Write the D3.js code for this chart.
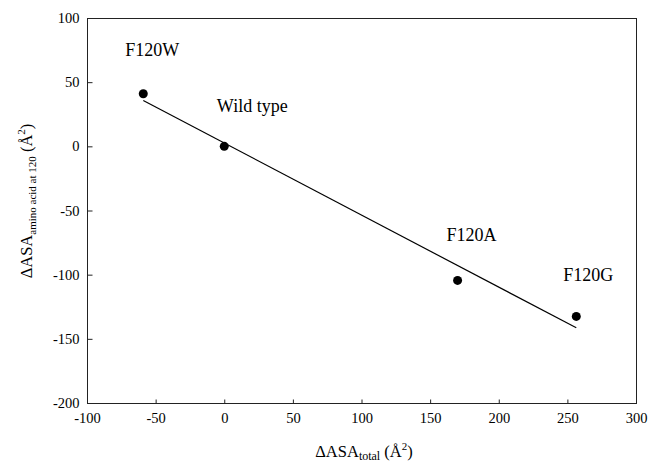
<!DOCTYPE html>
<html>
<head>
<meta charset="utf-8">
<script src="https://cdn.jsdelivr.net/npm/d3@7"></script>
<style>
  body { margin: 0; background: #fff; }
  svg { display: block; }
  svg text { font-family: "Times New Roman", "Liberation Serif", "DejaVu Serif", serif; }
</style>
</head>
<body>
<div id="chart"></div>
<script>
// mutants and their surface area changes (Å^2)
const names = ['F120W', 'Wild type', 'F120A', 'F120G'];
const asaTotal = [-59, 0, 170, 256.5];
const asa120 = [41, 0, -104.5, -132.5];
// label offsets relative to each point, in px
const labelDx = [9, 28, 14, 12];
const labelDy = [-38, -34, -39, -35];
const xTicks = [-100, -50, 0, 50, 100, 150, 200, 250, 300];
const yTicks = [-200, -150, -100, -50, 0, 50, 100];

const width = 648, height = 464;
const margin = {top: 18, right: 12, bottom: 61, left: 87};

const svg = d3.select('#chart').append('svg')
    .attr('width', width)
    .attr('height', height);

const x = d3.scaleLinear()
    .domain([-100, 300])
    .range([margin.left, width - margin.right]);
const y = d3.scaleLinear()
    .domain([-200, 100])
    .range([height - margin.bottom, margin.top]);

const points = names.map((n, i) => ({name: n, x: asaTotal[i], y: asa120[i], dx: labelDx[i], dy: labelDy[i]}));

// frame
svg.append('rect')
    .attr('x', x(-100) + 0.5)
    .attr('y', y(100) + 0.5)
    .attr('width', x(300) - x(-100))
    .attr('height', y(-200) - y(100))
    .attr('fill', 'none')
    .attr('stroke', '#222')
    .attr('stroke-width', 1);

// axes, ticks pointing inward, plain hyphen minus
svg.append('g')
    .attr('transform', `translate(0,${y(-200) + 0.5})`)
    .call(d3.axisBottom(x).tickValues(xTicks).tickFormat(d => String(d))
        .tickSizeInner(-4).tickSizeOuter(0).tickPadding(9))
    .call(g => g.select('.domain').remove())
    .call(g => g.attr('font-family', null))
    .call(g => g.selectAll('line').attr('stroke', '#222'))
    .call(g => g.selectAll('text')
        .attr('font-size', '14.5px')
        .attr('fill', '#000'));

svg.append('g')
    .attr('transform', `translate(${x(-100) + 0.5},0)`)
    .call(d3.axisLeft(y).tickValues(yTicks).tickFormat(d => String(d))
        .tickSizeInner(-5).tickSizeOuter(0).tickPadding(8))
    .call(g => g.select('.domain').remove())
    .call(g => g.attr('font-family', null))
    .call(g => g.selectAll('line').attr('stroke', '#222'))
    .call(g => g.selectAll('text')
        .attr('font-size', '14.5px')
        .attr('fill', '#000'));

// least squares fit line
const mx = d3.mean(asaTotal), my = d3.mean(asa120);
const slope = d3.sum(asaTotal, (v, i) => (v - mx) * (asa120[i] - my)) / d3.sum(asaTotal, v => (v - mx) * (v - mx));
const icpt = my - slope * mx;
const [x0, x1] = d3.extent(asaTotal);

svg.append('line')
    .attr('x1', x(x0))
    .attr('y1', y(icpt + slope * x0))
    .attr('x2', x(x1))
    .attr('y2', y(icpt + slope * x1))
    .attr('stroke', '#000')
    .attr('stroke-width', 1.2);

svg.append('g')
    .selectAll('circle')
    .data(points)
    .join('circle')
    .attr('cx', d => x(d.x))
    .attr('cy', d => y(d.y))
    .attr('r', 4.5)
    .attr('fill', '#000');

svg.append('g')
    .selectAll('text')
    .data(points)
    .join('text')
    .attr('x', d => x(d.x) + d.dx)
    .attr('y', d => y(d.y) + d.dy)
    .attr('text-anchor', 'middle')
    .attr('font-size', '18px')
    .text(d => d.name);

// axis titles
const xt = svg.append('text')
    .attr('x', 364)
    .attr('y', 457)
    .attr('text-anchor', 'middle')
    .attr('font-size', '16.5px');
xt.append('tspan').text('ΔASA');
xt.append('tspan').attr('dy', 3).attr('font-size', '12px').text('total');
xt.append('tspan').attr('dy', -3).text(' (Å');
xt.append('tspan').attr('dy', -7).attr('font-size', '11px').text('2');
xt.append('tspan').attr('dy', 7).text(')');

const yt = svg.append('text')
    .attr('transform', 'translate(32,201) rotate(-90)')
    .attr('text-anchor', 'middle')
    .attr('font-size', '16.5px');
yt.append('tspan').text('ΔASA');
yt.append('tspan').attr('dy', 4).attr('font-size', '11px').text('amino acid at 120');
yt.append('tspan').attr('dy', -4).text(' (Å');
yt.append('tspan').attr('dy', -7).attr('font-size', '11px').text('2');
yt.append('tspan').attr('dy', 7).text(')');
</script>
</body>
</html>
